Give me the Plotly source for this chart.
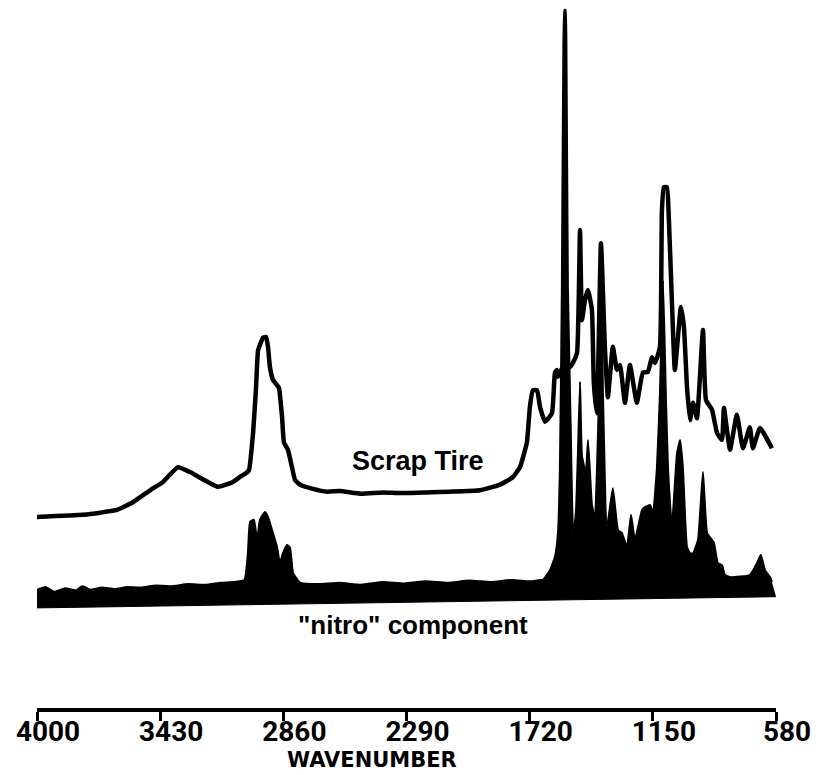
import plotly.graph_objects as go

# ---- Scrap tire spectrum (wavenumber, absorbance) ----
tire_wn = [4000, 3787, 3708, 3630, 3556, 3477, 3417, 3348, 3292, 3246, 3162, 3093,
           3061, 3030, 3019, 3000, 2987, 2977, 2968, 2954, 2940, 2931, 2922, 2908,
           2889, 2880, 2866, 2857, 2839, 2820, 2806, 2783, 2723, 2658, 2600, 2500,
           2400, 2320, 2200, 2089, 1950, 1857, 1797, 1765, 1733, 1719, 1705, 1686,
           1672, 1649, 1617, 1603, 1594, 1589, 1570, 1550, 1534, 1520, 1501, 1487,
           1478, 1464, 1450, 1432, 1423, 1409, 1390, 1372, 1358, 1335, 1316, 1302,
           1279, 1256, 1224, 1196, 1173, 1154, 1140, 1117, 1108, 1099, 1085, 1076,
           1062, 1048, 1020, 1006, 992, 978, 964, 946, 918, 904, 876, 853, 830, 821,
           793, 761, 733, 701, 687, 654, 599]
tire_abs = [0.273, 0.276, 0.279, 0.283, 0.294, 0.311, 0.323, 0.344, 0.337, 0.329, 0.316, 0.323,
            0.330, 0.336, 0.340, 0.393, 0.454, 0.511, 0.519, 0.529, 0.530, 0.516, 0.487, 0.469,
            0.461, 0.457, 0.416, 0.379, 0.369, 0.344, 0.326, 0.319, 0.313, 0.309, 0.310, 0.306,
            0.308, 0.307, 0.308, 0.309, 0.311, 0.319, 0.330, 0.344, 0.379, 0.430, 0.454, 0.454,
            0.430, 0.409, 0.421, 0.479, 0.483, 0.473, 0.485, 0.490, 0.487, 0.493, 0.507, 0.683,
            0.554, 0.583, 0.597, 0.569, 0.464, 0.421, 0.664, 0.516, 0.444, 0.516, 0.483, 0.490,
            0.436, 0.490, 0.436, 0.479, 0.480, 0.501, 0.493, 0.516, 0.710, 0.744, 0.744, 0.700,
            0.583, 0.483, 0.573, 0.544, 0.459, 0.411, 0.436, 0.414, 0.540, 0.440, 0.426, 0.393, 0.383, 0.429,
            0.369, 0.419, 0.371, 0.401, 0.371, 0.400, 0.371]

# ---- "nitro" component spectrum ----
nitro_wn = [4000, 3960, 3920, 3870, 3820, 3790, 3750, 3700, 3640, 3580, 3520, 3450,
            3380, 3300, 3220, 3150, 3093, 3040, 3024, 3014, 2996, 2982, 2968, 2945,
            2931, 2908, 2889, 2876, 2862, 2843, 2829, 2815, 2783, 2700, 2600, 2500,
            2400, 2300, 2200, 2100, 2000, 1900, 1800, 1720, 1672, 1658, 1626, 1603,
            1589, 1580, 1571, 1564, 1559, 1554, 1550, 1543, 1530, 1524, 1518, 1506,
            1497, 1487, 1478, 1460, 1450, 1432, 1427, 1418, 1399, 1390, 1381, 1362,
            1335, 1311, 1293, 1270, 1251, 1233, 1200, 1186, 1163, 1149, 1131, 1117,
            1103, 1090, 1080, 1062, 1038, 1024, 1011, 992, 978, 964, 941, 918, 899,
            876, 867, 849, 830, 816, 793, 701, 668, 650, 631, 608, 599]
nitro_abs = [0.169, 0.173, 0.166, 0.171, 0.168, 0.174, 0.169, 0.172, 0.170, 0.173, 0.172, 0.175,
             0.174, 0.177, 0.176, 0.179, 0.180, 0.183, 0.221, 0.266, 0.269, 0.240, 0.269, 0.280,
             0.273, 0.250, 0.230, 0.207, 0.221, 0.233, 0.229, 0.193, 0.179, 0.177, 0.179, 0.176,
             0.180, 0.178, 0.181, 0.179, 0.182, 0.180, 0.183, 0.181, 0.183, 0.183, 0.197, 0.216,
             0.250, 0.344, 0.600, 0.950, 0.997, 0.997, 0.950, 0.600, 0.400, 0.300, 0.245, 0.280,
             0.360, 0.466, 0.360, 0.336, 0.383, 0.290, 0.283, 0.269, 0.450, 0.650, 0.450, 0.259,
             0.314, 0.254, 0.250, 0.230, 0.276, 0.240, 0.283, 0.287, 0.290, 0.279, 0.344, 0.450,
             0.611, 0.450, 0.344, 0.259, 0.364, 0.383, 0.344, 0.230, 0.221, 0.221, 0.240, 0.337, 0.250,
             0.240, 0.236, 0.207, 0.204, 0.190, 0.187, 0.190, 0.207, 0.219, 0.197, 0.187, 0.180]

# lower edge of the filled nitro band
band_wn = [4000, 2290, 580]
band_abs = [0.143, 0.151, 0.159]

tick_vals = [4000, 3430, 2860, 2290, 1720, 1150, 580]
tick_text = ["4000", "3430", "2860", "2290", "1720", "1150", "580"]

fig = go.Figure()

fig.add_trace(go.Scatter(
    x=band_wn, y=band_abs, mode="lines",
    line=dict(color="black", width=1), showlegend=False, hoverinfo="skip"))
fig.add_trace(go.Scatter(
    x=nitro_wn, y=nitro_abs, mode="lines", fill="tonexty",
    fillcolor="black", line=dict(color="black", width=2, shape="spline", smoothing=0.4),
    showlegend=False))
fig.add_trace(go.Scatter(
    x=tire_wn, y=tire_abs, mode="lines",
    line=dict(color="black", width=4.5, shape="spline", smoothing=0.4),
    showlegend=False))

fig.add_annotation(x=2237, y=0.353, text="<b>Scrap Tire</b>", showarrow=False,
                   font=dict(family="Liberation Sans", size=27, color="black"),
                   xanchor="center", yanchor="middle")
fig.add_annotation(x=2260, y=0.119, text='<b>"nitro" component</b>', showarrow=False,
                   font=dict(family="Liberation Sans", size=26, color="black"),
                   xanchor="center", yanchor="middle")
fig.add_annotation(x=2450, xref="x", y=-0.074, yref="paper", text="<b>WAVENUMBER</b>",
                   showarrow=False,
                   font=dict(family="DejaVu Sans", size=21, color="black"),
                   xanchor="center", yanchor="middle")

fig.update_xaxes(
    range=[4000, 580], showgrid=False, zeroline=False,
    showline=True, linecolor="black", linewidth=4,
    ticks="outside", ticklen=9, tickwidth=3, tickcolor="black",
    tickvals=tick_vals, ticktext=tick_text,
    ticklabelshift=-11, ticklabelstandoff=-14, ticklabeloverflow="allow",
    tickfont=dict(family="Roboto", size=28, color="black", weight="bold"),
    automargin=False)
fig.update_yaxes(range=[0, 1.0114], visible=False, showgrid=False, zeroline=False)

fig.update_layout(
    width=826, height=775,
    margin=dict(l=37, r=50, t=0, b=67),
    paper_bgcolor="white", plot_bgcolor="white")

fig.write_html("out.html")
